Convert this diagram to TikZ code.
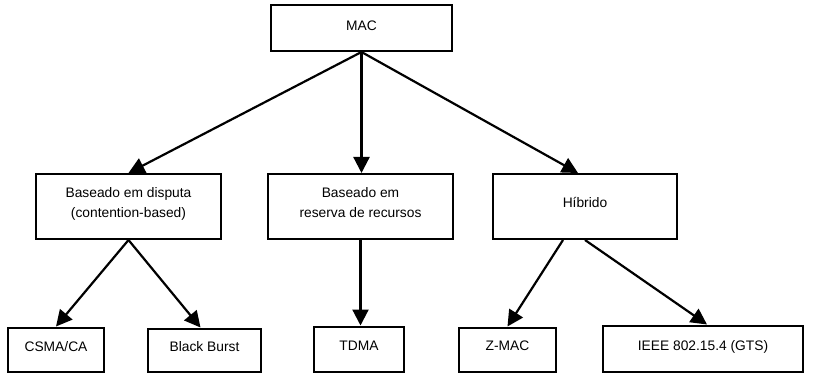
\documentclass[tikz,border=0pt]{standalone}
\usepackage{fontspec}
\setmainfont{Liberation Sans}
\usetikzlibrary{arrows.meta}
\begin{document}
\begin{tikzpicture}[x=1pt,y=-1pt,
  box/.style={draw, line width=2pt, rectangle, inner sep=0pt, align=center,
    font=\fontsize{13.8pt}{20.5pt}\selectfont, text depth=8pt},
  leaf/.style={box, text depth=7pt},
  link/.style={line width=2.2pt, -{Triangle[length=16pt,width=16pt]}}]
  \useasboundingbox (0,0) rectangle (813,374);
  % root
  \node[box, text depth=4pt, minimum width=181pt, minimum height=46pt] (mac) at (361.5,28) {MAC};
  % second level
  \node[box, minimum width=185pt, minimum height=65pt] (disp) at (128.5,206.5)
    {Baseado em disputa\\(contention-based)};
  \node[box, minimum width=185pt, minimum height=65pt] (res) at (360.5,206.5)
    {Baseado em\\reserva de recursos};
  \node[box, minimum width=184pt, minimum height=65pt] (hib) at (585,206.5) {Híbrido};
  % leaves
  \node[leaf, minimum width=96pt, minimum height=44pt] (csma) at (56,349.5) {CSMA/CA};
  \node[leaf, minimum width=113pt, minimum height=43pt] (bb) at (204.5,350) {Black Burst};
  \node[leaf, minimum width=90pt, minimum height=45pt] (tdma) at (359,349) {TDMA};
  \node[leaf, minimum width=97pt, minimum height=44pt] (zmac) at (507.5,349.5) {Z-MAC};
  \node[leaf, minimum width=200pt, minimum height=46pt] (ieee) at (703,348.5) {IEEE 802.15.4 (GTS)};
  % connectors
  \draw[link] (mac.south) -- (disp.north);
  \draw[link] (mac.south) -- (mac.south |- res.north);
  \draw[link] (mac.south) -- ([xshift=-7pt]hib.north);
  \draw[link] (disp.south) -- (csma.north);
  \draw[link] (disp.south) -- ([xshift=-4pt]bb.north);
  \draw[link] (res.south) -- (res.south |- tdma.north);
  \draw[link] ([xshift=-22pt]hib.south) -- (zmac.north);
  \draw[link] (hib.south) -- ([xshift=4pt]ieee.north);
\end{tikzpicture}
\end{document}
